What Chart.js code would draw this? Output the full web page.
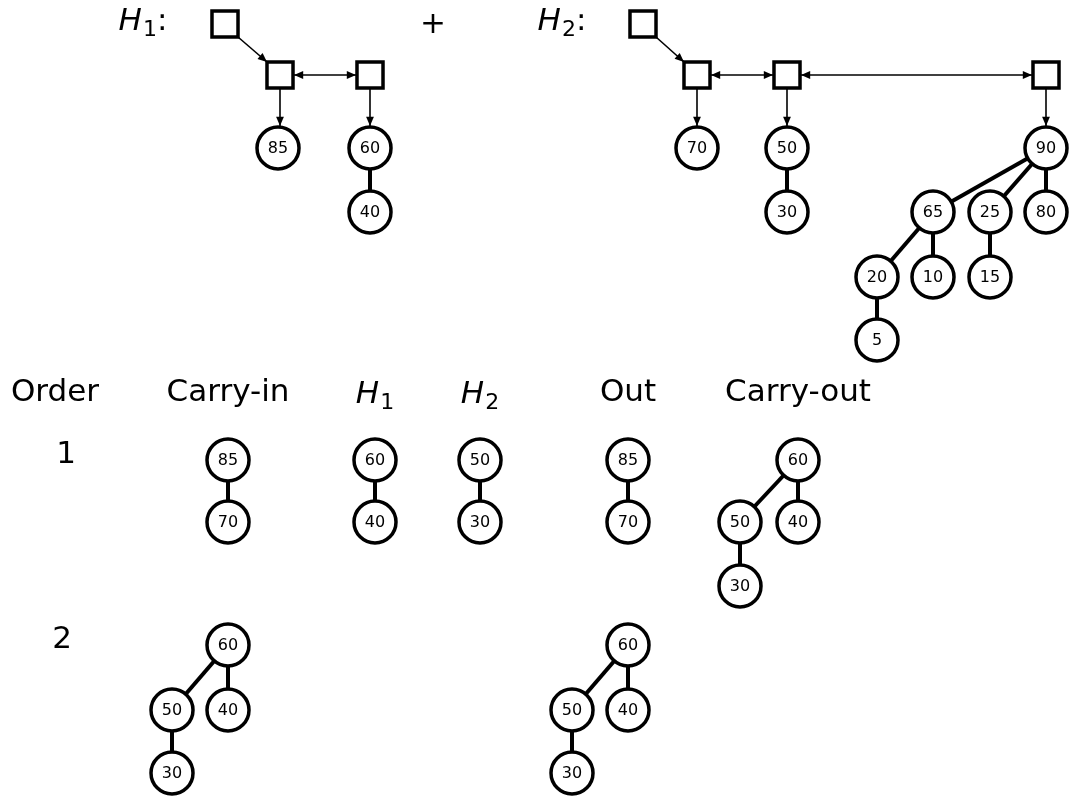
<!DOCTYPE html>
<html>
<head>
<meta charset="utf-8">
<script src="https://cdn.jsdelivr.net/npm/chart.js@4/dist/chart.umd.min.js"></script>
<style>
  html, body { margin: 0; padding: 0; background: #fff; overflow: hidden; }
  #wrap { width: 1086px; height: 805px; }
</style>
</head>
<body>
<div id="wrap"><canvas id="grafico"></canvas></div>
<script>
// nós (chave, x, y) no sistema do desenho
const nodeKeys = ['85','60','40', '70','50','30','90','65','25','80','20','10','15','5',
                  '85','70','60','40','50','30','85','70','60','50','40','30',
                  '60','50','40','30','60','50','40','30'];
const nodeX = [278,370,370, 697,787,787,1046,933,990,1046,877,933,990,877,
               228,228,375,375,480,480,628,628,798,740,798,740,
               228,172,228,172,628,572,628,572];
const nodeY = [148,148,212, 148,148,212,148,212,212,212,277,277,277,340,
               460,522,460,522,460,522,460,522,460,522,522,586,
               645,710,710,773,645,710,710,773];
// arestas (índices dos nós)
const edges = [[1,2],[4,5],[6,7],[6,8],[6,9],[7,10],[7,11],[8,12],[10,13],
               [14,15],[16,17],[18,19],[20,21],[22,23],[22,24],[23,25],
               [26,27],[26,28],[27,29],[30,31],[30,32],[31,33]];
// quadrados das listas de raízes
const squareX = [225,280,370, 643,697,787,1046];
const squareY = [24,75,75, 24,75,75,75];
// setas: [x1,y1,x2,y2,duas pontas]
const arrows = [[238,37,267,62,false],[294,75,356,75,true],[280,89,280,126,false],[370,89,370,126,false],
                [656,37,684,62,false],[711,75,773,75,true],[801,75,1032,75,true],
                [697,89,697,126,false],[787,89,787,126,false],[1046,89,1046,126,false]];
// rótulos: [texto, subscrito, sufixo, x, y, itálico]
const labels = [['H','1',':',143,22,true],['+','','',433,25,false],['H','2',':',562,22,true],
                ['Order','','',55,393,false],['Carry-in','','',228,393,false],['H','1','',375,395,true],
                ['H','2','',480,395,true],['Out','','',628,393,false],['Carry-out','','',798,393,false],
                ['1','','',66,455,false],['2','','',62,640,false]];

const datasets = [];
edges.forEach(([a, b]) => {
    datasets.push({
        data: [{x: nodeX[a], y: nodeY[a]}, {x: nodeX[b], y: nodeY[b]}],
        showLine: true, borderColor: '#000', borderWidth: 4, pointRadius: 0, order: 3
    });
});
datasets.push({
    data: nodeX.map((x, i) => ({x: x, y: nodeY[i]})),
    pointRadius: 21, pointBorderWidth: 3.5, pointBackgroundColor: '#fff', pointBorderColor: '#000',
    showLine: false, order: 1
});
datasets.push({
    data: squareX.map((x, i) => ({x: x, y: squareY[i]})),
    pointStyle: 'rect', pointRadius: 18.4, pointBorderWidth: 3.5,
    pointBackgroundColor: '#fff', pointBorderColor: '#000', showLine: false, order: 1
});

function ponta(ctx, x1, y1, x2, y2) {
    const ang = Math.atan2(y2 - y1, x2 - x1);
    ctx.beginPath();
    ctx.moveTo(x2, y2);
    ctx.lineTo(x2 - 10 * Math.cos(ang - 0.4), y2 - 10 * Math.sin(ang - 0.4));
    ctx.lineTo(x2 - 10 * Math.cos(ang + 0.4), y2 - 10 * Math.sin(ang + 0.4));
    ctx.closePath();
    ctx.fill();
}

const textos = {
    id: 'textos',
    afterDatasetsDraw(chart) {
        const ctx = chart.ctx, sx = chart.scales.x, sy = chart.scales.y;
        ctx.save();
        ctx.strokeStyle = '#000'; ctx.fillStyle = '#000'; ctx.lineWidth = 1.6;
        arrows.forEach(([x1, y1, x2, y2, dupla]) => {
            const a = sx.getPixelForValue(x1), b = sy.getPixelForValue(y1);
            const c = sx.getPixelForValue(x2), d = sy.getPixelForValue(y2);
            ctx.beginPath(); ctx.moveTo(a, b); ctx.lineTo(c, d); ctx.stroke();
            ponta(ctx, a, b, c, d);
            if (dupla) ponta(ctx, c, d, a, b);
        });
        ctx.textAlign = 'center'; ctx.textBaseline = 'middle';
        ctx.font = '16px "DejaVu Sans"';
        nodeKeys.forEach((k, i) => {
            ctx.fillText(k, sx.getPixelForValue(nodeX[i]), sy.getPixelForValue(nodeY[i]) + 1);
        });
        ctx.textAlign = 'left';
        labels.forEach(([t, sub, suf, x, y, it]) => {
            const px = sx.getPixelForValue(x), py = sy.getPixelForValue(y);
            const fMain = (it ? 'italic ' : '') + '31px "DejaVu Sans"';
            ctx.font = fMain;
            const w1 = ctx.measureText(t).width;
            ctx.font = '22px "DejaVu Sans"';
            const w2 = sub ? ctx.measureText(sub).width + 1 : 0;
            ctx.font = '31px "DejaVu Sans"';
            const w3 = suf ? ctx.measureText(suf).width : 0;
            const start = px - (w1 + w2 + w3) / 2;
            ctx.font = fMain;
            ctx.fillText(t, start, py);
            if (sub) { ctx.font = '22px "DejaVu Sans"'; ctx.fillText(sub, start + w1 + 1, py + 8); }
            if (suf) { ctx.font = '31px "DejaVu Sans"'; ctx.fillText(suf, start + w1 + w2, py); }
        });
        ctx.restore();
    }
};

new Chart(document.getElementById('grafico'), {
    type: 'scatter',
    data: { datasets: datasets },
    options: {
        responsive: true, maintainAspectRatio: false, animation: false,
        layout: { padding: 0, autoPadding: false },
        plugins: { legend: { display: false }, tooltip: { enabled: false } },
        scales: {
            x: { type: 'linear', min: 0, max: 1086, display: false },
            y: { type: 'linear', min: 0, max: 805, reverse: true, display: false }
        },
        clip: false
    },
    plugins: [textos]
});
</script>
</body>
</html>
